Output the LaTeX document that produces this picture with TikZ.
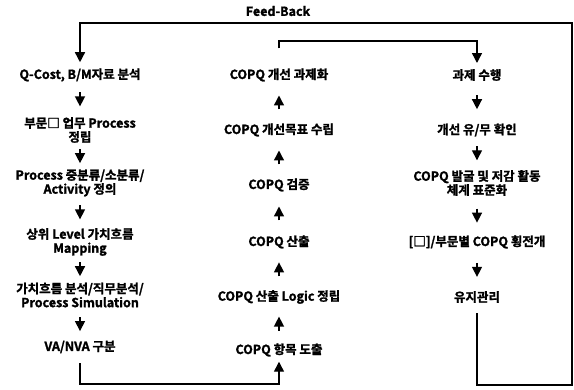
\documentclass[tikz,border=0pt]{standalone}
\usepackage{fontspec}
\setmainfont{Noto Sans CJK KR}[BoldFont={* Bold},BoldFeatures={FakeBold=1.6}]
\usetikzlibrary{arrows.meta,calc}
\begin{document}
\begin{tikzpicture}[x=1pt,y=1pt,
  lbl/.style={inner sep=0pt,align=center,font=\bfseries\fontsize{12.5}{14}\selectfont},
  ln/.style={line width=1.4pt},
  tip/.style={-{Triangle[width=10pt,length=10pt]}},
  dn/.style={ln,tip,to path={($(\tikztostart.south)!.5!(\tikztotarget.north)+(0,7)$) -- ++(0,-14)}},
  upa/.style={ln,tip,to path={($(\tikztostart.north)!.5!(\tikztotarget.south)+(0,-7)$) -- ++(0,14)}}
]
\useasboundingbox (0,0) rectangle (574,389);
% left column x=80
\node[lbl] (l1) at (80,389-75) {Q-Cost, B/M자료 분석};
\node[lbl] (l2) at (80,389-130) {부문□ 업무 Process\\정립};
\node[lbl] (l3) at (80,389-183) {Process 중분류/소분류/\\Activity 정의};
\node[lbl] (l4) at (80,389-242) {상위 Level 가치흐름\\Mapping};
\node[lbl] (l5) at (80,389-295) {가치흐름 분석/직무분석/\\Process Simulation};
\node[lbl] (l6) at (80,389-347) {VA/NVA 구분};
% middle column x=279
\node[lbl] (m1) at (279,389-75) {COPQ 개선 과제화};
\node[lbl] (m2) at (279,389-130) {COPQ 개선목표 수립};
\node[lbl] (m3) at (279,389-185) {COPQ 검증};
\node[lbl] (m4) at (279,389-242) {COPQ 산출};
\node[lbl] (m5) at (279,389-297) {COPQ 산출 Logic 정립};
\node[lbl] (m6) at (279,389-350) {COPQ 항목 도출};
% right column x=477
\node[lbl] (r1) at (477,389-75) {과제 수행};
\node[lbl] (r2) at (477,389-130) {개선 유/무 확인};
\node[lbl] (r3) at (477,389-183) {COPQ 발굴 및 저감 활동\\체계 표준화};
\node[lbl] (r4) at (477,389-242) {[□]/부문별 COPQ 횡전개};
\node[lbl] (r5) at (477,389-297) {유지관리};
\node[lbl] (fb) at (278,389-11) {Feed-Back};
% loop corners
\coordinate (mtop) at (279,389-41);
\coordinate (bot) at (80,389-384);
\coordinate (rr) at (572,389-385);
\coordinate (fr) at (572,389-23);
% vertical arrows
\draw[dn] (l1) to (l2);
\draw[dn] (l2) to (l3);
\draw[dn] (l3) to (l4);
\draw[dn] (l4) to (l5);
\draw[dn] (l5) to (l6);
\draw[upa] (m6) to (m5);
\draw[upa] (m5) to (m4);
\draw[upa] (m4) to (m3);
\draw[upa] (m3) to (m2);
\draw[upa] (m2) to (m1);
\draw[dn] (r1) to (r2);
\draw[dn] (r2) to (r3);
\draw[dn] (r3) to (r4);
\draw[dn] (r4) to (r5);
% brackets
\draw[ln,tip] ([yshift=-10pt]l6.south) |- (bot -| m6) -- ([yshift=-5pt]m6.south);
\draw[ln,tip] ([yshift=20pt]m1.north) |- (mtop -| r1) -- ([yshift=6pt]r1.north);
\draw[ln,tip] ([yshift=-10pt]r5.south) |- (rr) |- (fr -| l1) -- ([yshift=6pt]l1.north);
\end{tikzpicture}
\end{document}
